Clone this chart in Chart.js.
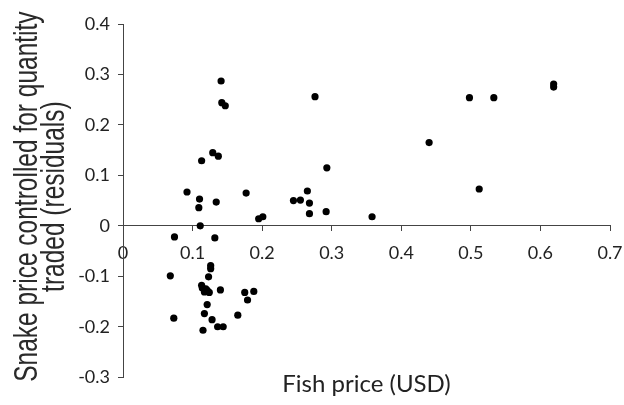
<!DOCTYPE html>
<html>
<head>
<meta charset="utf-8">
<script src="https://cdn.jsdelivr.net/npm/chart.js@4/dist/chart.umd.min.js"></script>
<style>
  html, body { margin: 0; padding: 0; background: #fff; }
  canvas { display: block; }
</style>
</head>
<body>
<canvas id="myChart" width="624" height="405"></canvas>
<script>
// fish price (USD) vs snake price residuals
const fishPrice = [
	0.141, 0.142, 0.147, 0.129, 0.137, 0.113, 0.092, 0.110, 0.109, 0.134,
	0.177, 0.111, 0.195, 0.201, 0.245, 0.255, 0.276, 0.498, 0.533, 0.619,
	0.619, 0.440, 0.293, 0.512, 0.265, 0.268, 0.268, 0.292, 0.358, 0.074,
	0.132, 0.126, 0.126, 0.068, 0.123, 0.113, 0.114, 0.119, 0.121, 0.117,
	0.124, 0.140, 0.175, 0.188, 0.179, 0.121, 0.117, 0.165, 0.073, 0.128,
	0.136, 0.144, 0.115
];
const snakeResid = [
	0.287, 0.244, 0.238, 0.145, 0.138, 0.129, 0.067, 0.053, 0.036, 0.047,
	0.065, 0.000, 0.014, 0.018, 0.050, 0.051, 0.256, 0.254, 0.254, 0.281,
	0.275, 0.165, 0.115, 0.073, 0.069, 0.045, 0.024, 0.028, 0.018, -0.022,
	-0.024, -0.079, -0.085, -0.099, -0.101, -0.118, -0.123, -0.125, -0.128, -0.131,
	-0.132, -0.127, -0.132, -0.130, -0.147, -0.156, -0.174, -0.177, -0.183, -0.186,
	-0.200, -0.200, -0.207
];
const xTicks = [0, 0.1, 0.2, 0.3, 0.4, 0.5, 0.6, 0.7];
const yTicks = [-0.3, -0.2, -0.1, 0, 0.1, 0.2, 0.3, 0.4];
const yTitleLines = ['Snake price controlled for quantity', 'traded (residuals)'];

const points = fishPrice.map((x, i) => ({ x: x, y: snakeResid[i] }));

const axisColor = '#444';
const tickFont = { family: 'Lato', size: 18 };

// y title in the original is tall and narrow, so draw it stretched
const yTitlePlugin = {
	id: 'yTitle',
	afterDraw(chart) {
		const ctx = chart.ctx;
		const area = chart.chartArea;
		const mid = (area.top + area.bottom) / 2 - 4;
		const baselines = [37, 64];
		ctx.save();
		ctx.fillStyle = '#2a2a2a';
		ctx.font = '24.5px "Liberation Sans"';
		ctx.textAlign = 'center';
		ctx.textBaseline = 'alphabetic';
		yTitleLines.forEach((line, i) => {
			ctx.save();
			ctx.translate(baselines[i], mid);
			ctx.rotate(-Math.PI / 2);
			ctx.scale(1, 1.32);
			ctx.fillText(line, 0, 0);
			ctx.restore();
		});
		ctx.restore();
	},
};

new Chart('myChart', {
	type: 'scatter',
	data: {
		datasets: [
			{
				data: points,
				backgroundColor: '#000',
				borderWidth: 0,
				pointRadius: 3.6,
			},
		],
	},
	options: {
		responsive: false,
		animation: false,
		layout: {
			padding: { top: 24, right: 14, bottom: 6, left: 0 },
		},
		plugins: {
			legend: { display: false },
			tooltip: { enabled: false },
			title: {
				display: true,
				position: 'bottom',
				fullSize: false,
				text: 'Fish price (USD)',
				color: '#222',
				font: { family: 'Lato', size: 24, weight: 'normal', lineHeight: 1.2 },
				padding: { top: -7, bottom: 0 },
			},
		},
		scales: {
			x: {
				type: 'linear',
				position: { y: 0 },
				min: 0,
				max: 0.7,
				afterBuildTicks: scale => {
					scale.ticks = xTicks.map(v => ({ value: v }));
				},
				afterFit: scale => {
					scale.paddingLeft = 0;
					scale.paddingRight = 0;
				},
				ticks: {
					color: '#222',
					font: tickFont,
					padding: 12,
					callback: v => String(v),
				},
				grid: {
					drawOnChartArea: false,
					drawTicks: true,
					tickLength: 5,
					color: axisColor,
				},
				border: { display: true, color: axisColor, width: 1 },
			},
			y: {
				type: 'linear',
				min: -0.3,
				max: 0.4,
				afterBuildTicks: scale => {
					scale.ticks = yTicks.map(v => ({ value: v }));
				},
				afterFit: scale => {
					scale.width = 123;
				},
				ticks: {
					color: '#222',
					font: tickFont,
					padding: 8,
					callback: v => String(v),
				},
				grid: {
					drawOnChartArea: false,
					drawTicks: true,
					tickLength: 5,
					color: axisColor,
				},
				border: { display: true, color: axisColor, width: 1 },
			},
		},
	},
	plugins: [yTitlePlugin],
});
</script>
</body>
</html>
